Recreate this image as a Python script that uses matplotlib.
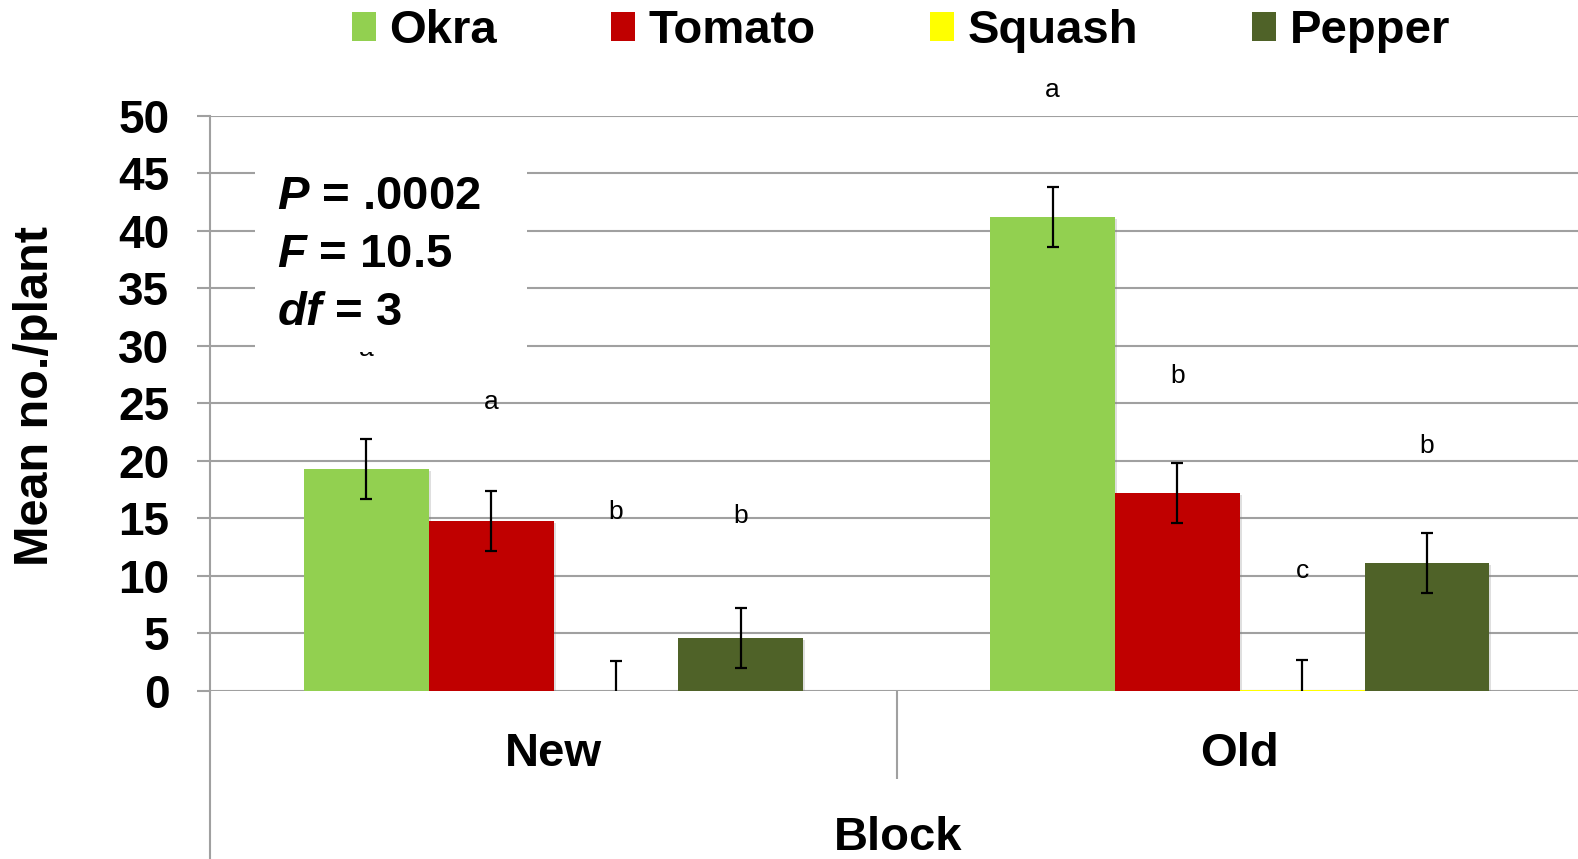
import matplotlib
matplotlib.use("Agg")
import matplotlib.pyplot as plt
import matplotlib.transforms as mtransforms
import numpy as np
from matplotlib.patches import Rectangle, Patch
from matplotlib.lines import Line2D
import matplotlib.patheffects as pe

plt.rcParams['font.family'] = ['Liberation Sans', 'DejaVu Sans']
plt.rcParams['mathtext.fontset'] = 'custom'
plt.rcParams['mathtext.bfit'] = 'Liberation Sans:bold:italic'
plt.rcParams['mathtext.it'] = 'Liberation Sans:italic:bold'
plt.rcParams['mathtext.rm'] = 'Liberation Sans:bold'

# ---- data ----
blocks = ["New", "Old"]
crops = ["Okra", "Tomato", "Squash", "Pepper"]
okra = [19.3, 41.2]
tomato = [14.8, 17.2]
squash = [0.0, 0.1]
pepper = [4.6, 11.1]
okra_se = [2.6, 2.6]
tomato_se = [2.6, 2.6]
squash_se = [2.6, 2.6]
pepper_se = [2.6, 2.6]
okra_letters = ["a", "a"]
tomato_letters = ["a", "b"]
squash_letters = ["b", "c"]
pepper_letters = ["b", "b"]
okra_letter_y = [29.7, 52.2]
tomato_letter_y = [25.1, 27.4]
squash_letter_y = [15.6, 10.4]
pepper_letter_y = [15.2, 21.3]
stats_lines = [(r"$\mathbfit{P}$", " = .0002"), (r"$\mathbfit{F}$", " = 10.5"), (r"$\mathbfit{df}$", " = 3")]
y_ticks = list(range(0, 51, 5))

colors = ["#92d050", "#c00000", "#ffff00", "#4f6228"]
grid_c = "#a0a0a0"

W, H = 1578, 859
fig = plt.figure(figsize=(W / 100, H / 100), dpi=100)

# layout measured on a 1568x854 view of the reference
SW, SH = 1568, 854

def fx(px):
    return px / SW

def fy(py):
    return 1 - py / SH

ax = fig.add_axes([fx(209), fy(687), fx(1573) - fx(209), fy(115) - fy(687)])

values = [okra, tomato, squash, pepper]
errs = [okra_se, tomato_se, squash_se, pepper_se]
letters = [okra_letters, tomato_letters, squash_letters, pepper_letters]
letter_y = [okra_letter_y, tomato_letter_y, squash_letter_y, pepper_letter_y]

x = np.arange(len(blocks))
w = 0.1818
for i, (crop, vals, err, col) in enumerate(zip(crops, values, errs, colors)):
    pos = x + (i - 1.5) * w
    bars = ax.bar(pos, vals, width=w, color=col, label=crop, zorder=3,
                  linewidth=0)
    for b in bars:
        b.set_path_effects([pe.SimplePatchShadow(offset=(1.5, -1.5), alpha=0.25,
                                                 shadow_rgbFace="#808080"),
                            pe.Normal()])
    ax.errorbar(pos, vals, yerr=err, fmt='none', ecolor='black', elinewidth=1.6,
                capsize=4.5, capthick=1.6, zorder=4)
    for p, ly, lt in zip(pos, letter_y[i], letters[i]):
        ax.text(p, ly, lt, ha='center', va='center', fontsize=19, color='black',
                zorder=5, clip_on=False)

ax.set_xlim(-0.5, 1.5)
ax.set_ylim(0, 50)
ax.set_yticks(y_ticks)
ax.yaxis.grid(True, color=grid_c, linewidth=1.5, zorder=0)
ax.set_axisbelow(True)
ax.tick_params(axis='y', length=9.5, width=1.5, color=grid_c, pad=20,
               labelsize=33)
for lab in ax.get_yticklabels():
    lab.set_fontweight('bold')

ax.set_xticks([])
ax.set_xticks([0.5], minor=True)
ax.tick_params(axis='x', which='minor', length=63, width=1.5, color=grid_c,
               direction='out')
ax.tick_params(axis='x', which='major', length=0)

for s in ['top', 'right', 'bottom']:
    ax.spines[s].set_visible(False)
ax.spines['left'].set_color(grid_c)
ax.spines['left'].set_linewidth(1.5)

# left spine extension down to the bottom of the figure
fig.add_artist(Line2D([fx(209), fx(209)], [fy(687), 0], color=grid_c,
                      linewidth=1.5))

# category labels
blend = mtransforms.blended_transform_factory(ax.transData, fig.transFigure)
for xi, name in zip(x, blocks):
    ax.text(xi, fy(762), name, transform=blend, ha='center', va='baseline',
            fontsize=34, fontweight='bold')

fig.text(fx(892), fy(845), "Block", ha='center', va='baseline', fontsize=34,
         fontweight='bold')
fig.text(fx(35), fy(394), "Mean no./plant", rotation=90, ha='center',
         va='center', fontsize=35, fontweight='bold')

# stats box
fig.add_artist(Rectangle((fx(253), fy(350)), fx(524) - fx(253), fy(140) - fy(350),
                         transform=fig.transFigure, facecolor='white',
                         edgecolor='none', zorder=1))
baselines = [208, 265, 323]
for (sym, rest), bl in zip(stats_lines, baselines):
    fig.text(fx(275), fy(bl), sym + rest, ha='left', va='baseline',
             fontsize=34, fontweight='bold', zorder=2)

handles = [Patch(facecolor=c, edgecolor='none') for c in colors]
fig.legend(handles, crops, loc='center', bbox_to_anchor=(fx(895), fy(31)),
           ncol=4, frameon=False, prop={'weight': 'bold', 'size': 34},
           handlelength=0.52, handleheight=0.57, handletextpad=0.28,
           columnspacing=2.41, borderpad=0, borderaxespad=0)

fig.savefig("out.png", dpi=100)
